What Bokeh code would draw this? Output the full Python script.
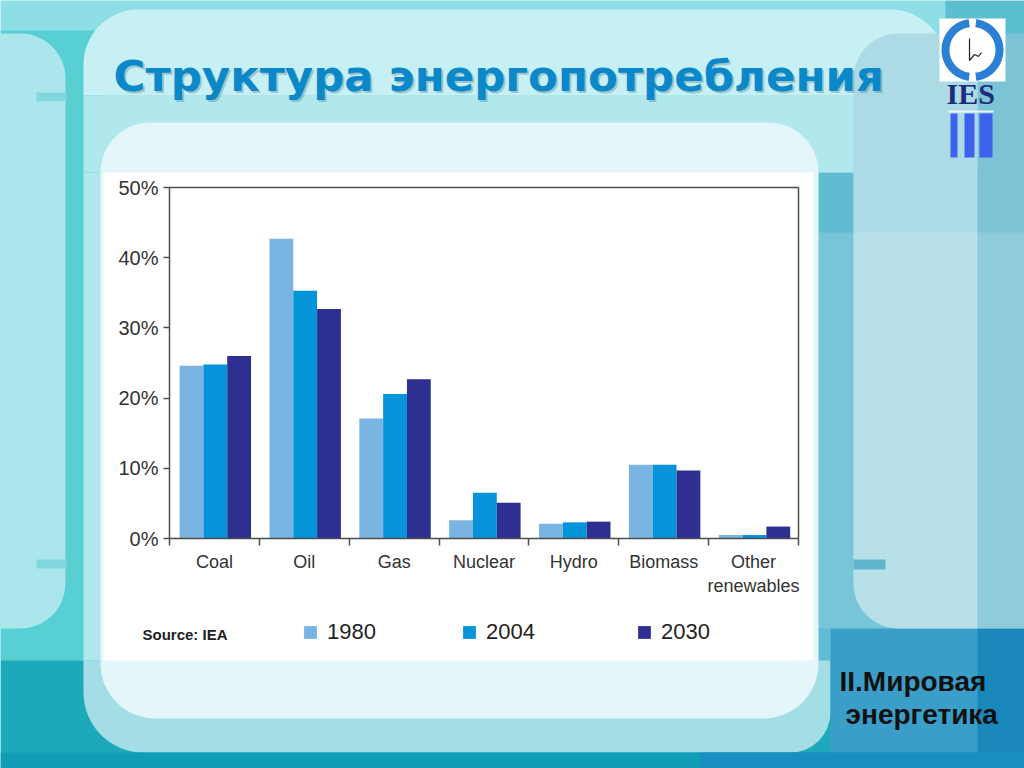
import numpy as np
from bokeh.plotting import figure
from bokeh.models import (ColumnDataSource, Range1d, LinearAxis, FixedTicker,
                          PrintfTickFormatter, BoxAnnotation, PolyAnnotation, Label, Legend,
                          LegendItem, Arrow)
from bokeh.transform import dodge
from bokeh.embed import file_html
from bokeh.resources import INLINE

# ---------------- data ----------------
categories = ["Coal", "Oil", "Gas", "Nuclear", "Hydro", "Biomass", "Other renewables"]
category_labels = ["Coal", "Oil", "Gas", "Nuclear", "Hydro", "Biomass", "Other\nrenewables"]
years = ["1980", "2004", "2030"]
share_1980 = [24.6, 42.7, 17.1, 2.6, 2.1, 10.5, 0.5]
share_2004 = [24.8, 35.3, 20.6, 6.5, 2.3, 10.5, 0.5]
share_2030 = [26.0, 32.7, 22.7, 5.1, 2.4, 9.7, 1.7]
y_ticks = [0, 10, 20, 30, 40, 50]
title_text = "Структура энергопотребления"
section_line1 = "II.Мировая"
section_line2 = "энергетика"
source_text = "Source: IEA"
logo_text = "IES"

# ---------------- styles / layout ----------------
bar_colors = ["#7ab4e2", "#0593d9", "#2d3090"]
bar_offsets = [-0.255, 0.01, 0.275]
bar_width = 0.265
FONT = "Liberation Sans"
AXIS_COLOR = "#4d4d4d"

W, H = 1024, 768
FL, FR, FT, FB = 169, 798, 187, 538   # chart area edges in page pixels
n = len(categories)
Y_MAX = 50
kx = (FR - FL) / n
ky = (FB - FT) / Y_MAX
slots = [i + 0.5 for i in range(n)]   # category slot centres

# the plot frame covers the whole page; the chart area is placed through the ranges
p = figure(width=W, height=H,
           x_range=Range1d(-FL / kx, n + (W - FR) / kx),
           y_range=Range1d(-(H - FB) / ky, Y_MAX + FT / ky),
           x_axis_type=None, y_axis_type=None, min_border=0,
           output_backend="svg", toolbar_location=None)
p.outline_line_color = None
p.background_fill_color = "#8ddfe5"
p.border_fill_color = "#8ddfe5"


def box(x0, y0, x1, y1, color, alpha=1.0, radius=(0, 0, 0, 0)):
    """slide decoration in page pixels (y downwards)"""
    p.add_layout(BoxAnnotation(left=x0, right=x1, top=H - y0, bottom=H - y1,
                               left_units="screen", right_units="screen",
                               top_units="screen", bottom_units="screen",
                               fill_color=color, fill_alpha=alpha, line_color=None,
                               border_radius=radius, level="underlay"))


# ---------------- slide background ----------------
box(0, 30, 103, 660, "#58cfd3")
box(0, 660, 1024, 768, "#1ea9ba")
box(813, 172, 1024, 660, "#60bdd1")
box(945, 0, 1024, 40, "#5bbfcf")
box(0, 33, 65, 628, "#aae6eb", radius=(0, 45, 45, 0))
box(36, 92, 66, 101, "#82d7dd")
box(36, 559, 66, 568, "#82d7dd")
box(83, 9, 945, 95, "#c6f0f4", radius=(55, 55, 0, 0))
box(83, 95, 945, 172, "#b0e8ee")
box(83, 172, 103, 660, "#b0e8ee")
box(83, 660, 830, 752, "#a3dee7", radius=(0, 0, 40, 60))
box(830, 628, 1024, 768, "#3a9ec9")
box(977, 628, 1024, 768, "#1b88bb")
box(0, 752, 1024, 768, "#119db6")
box(700, 752, 1024, 768, "#1a8ec0")
box(977, 33, 1024, 628, "#7cc3d5")
box(853, 33, 977, 628, "#acdbe6", radius=(45, 0, 0, 45))
box(813, 232, 1024, 628, "white", alpha=0.15)
box(853, 559, 885, 569, "#5fb6cc")
box(100, 122, 818, 718, "#e4f6f9", radius=(50, 50, 55, 55))
box(103, 172, 813, 660, "white")          # white chart panel

# logo
box(939, 18, 1005, 81, "white")
cx, cy, R, r = 972.0, 49.5, 31.0, 23.0
for a0, a1 in [(97, 263), (-83, 83)]:
    t = np.radians(np.linspace(a0, a1, 40))
    px = np.concatenate([cx + R * np.cos(t), cx + r * np.cos(t[::-1])])
    py = np.concatenate([cy - R * np.sin(t), cy - r * np.sin(t[::-1])])
    p.add_layout(PolyAnnotation(xs=[float(v) for v in px], ys=[float(H - v) for v in py],
                                xs_units="screen", ys_units="screen", level="underlay",
                                fill_color="#2a7fd6", fill_alpha=1, line_color=None))
for (xa, ya, xb, yb) in [(969, 38, 969, 60), (969, 60, 974, 54), (974, 54, 978, 56), (978, 56, 981, 52)]:
    p.add_layout(Arrow(x_start=xa, y_start=H - ya, x_end=xb, y_end=H - yb,
                       start_units="screen", end_units="screen", end=None,
                       line_color="#222222", line_width=1.2))
box(948, 110, 993, 112, "white", alpha=0.8)
for x0, x1 in [(950, 957), (964, 974), (979, 992)]:
    box(x0, 113, x1, 157, "#3d62ee")

# ---------------- bars ----------------
src = ColumnDataSource(dict(cat=categories, slot=slots,
                            y1980=share_1980, y2004=share_2004, y2030=share_2030))
renderers = []
for yr, col, off in zip(years, bar_colors, bar_offsets):
    rr = p.vbar(x=dodge("slot", off), top="y" + yr, width=bar_width,
                source=src, fill_color=col, line_color=None)
    renderers.append(rr)

# ---------------- axes (fixed at the chart area's edges) ----------------
yaxis = LinearAxis(fixed_location=0, bounds=(0, Y_MAX),
                   ticker=FixedTicker(ticks=y_ticks, minor_ticks=[]),
                   formatter=PrintfTickFormatter(format="%d%%"))
yaxis.axis_line_color = AXIS_COLOR
yaxis.axis_line_width = 1.5
yaxis.major_tick_line_color = AXIS_COLOR
yaxis.major_tick_line_width = 1.5
yaxis.major_tick_out = 6
yaxis.major_tick_in = 0
yaxis.minor_tick_line_color = None
yaxis.major_label_standoff = 5
yaxis.major_label_text_font = FONT
yaxis.major_label_text_font_size = "20px"
yaxis.major_label_text_color = "#333333"
p.add_layout(yaxis, "left")

xaxis = LinearAxis(fixed_location=0, bounds=(0, n),
                   ticker=FixedTicker(ticks=slots, minor_ticks=list(range(n + 1))),
                   major_label_overrides={c: lab for c, lab in zip(slots, category_labels)})
xaxis.axis_line_color = AXIS_COLOR
xaxis.axis_line_width = 1.5
xaxis.major_tick_line_color = None
xaxis.major_tick_out = 0
xaxis.major_tick_in = 0
xaxis.minor_tick_line_color = AXIS_COLOR
xaxis.minor_tick_line_width = 1.5
xaxis.minor_tick_out = 7
xaxis.minor_tick_in = 0
xaxis.major_label_standoff = 6
xaxis.major_label_text_font = FONT
xaxis.major_label_text_font_size = "18px"
xaxis.major_label_text_color = "#333333"
p.add_layout(xaxis, "below")

# plain top and right edges of the chart box
for loc, side, bnd in [(Y_MAX, "above", (0, n)), (n, "right", (0, Y_MAX))]:
    ax = LinearAxis(fixed_location=loc, bounds=bnd, ticker=FixedTicker(ticks=[], minor_ticks=[]))
    ax.axis_line_color = AXIS_COLOR
    ax.axis_line_width = 1.5
    ax.major_tick_line_color = None
    ax.minor_tick_line_color = None
    ax.major_label_text_font_size = "0px"
    p.add_layout(ax, side)


# ---------------- texts ----------------
def label(x, base_y, text, size, color, font=FONT, style="bold", alpha=1.0):
    # base_y: wanted baseline in page pixels; Bokeh's anchor sits ~0.35em above it
    y = base_y - 0.35 * size
    p.add_layout(Label(x=x, y=H - y, x_units="screen", y_units="screen", text=text,
                       text_font=font, text_font_style=style, text_font_size=f"{size}px",
                       text_color=color, text_alpha=alpha, text_baseline="alphabetic"))


label(115, 93, title_text, 43.5, "#3e5a66", font="DejaVu Sans", alpha=0.3)
label(113, 91, title_text, 43.5, "#0b88c9", font="DejaVu Sans")
label(839, 691, section_line1, 28, "#111111")
label(845, 724, section_line2, 28, "#111111")
label(142, 639, source_text, 15, "#222222")
label(946, 103, logo_text, 30, "#1d2c7c", font="Liberation Serif")

# ---------------- legend (three separate entries) ----------------
legend_x = [302, 461, 636]
for yr, r_, lx in zip(years, renderers, legend_x):
    lg = Legend(items=[LegendItem(label=yr, renderers=[r_])],
                location=(lx, H - 645), orientation="horizontal",
                border_line_color=None, background_fill_alpha=0,
                label_text_font=FONT, label_text_font_size="22px", label_text_color="#222222",
                glyph_width=16, glyph_height=16, label_standoff=9,
                padding=0, margin=0, spacing=0, label_height=16)
    p.add_layout(lg)

open("out.html", "w").write(file_html(p, INLINE))
